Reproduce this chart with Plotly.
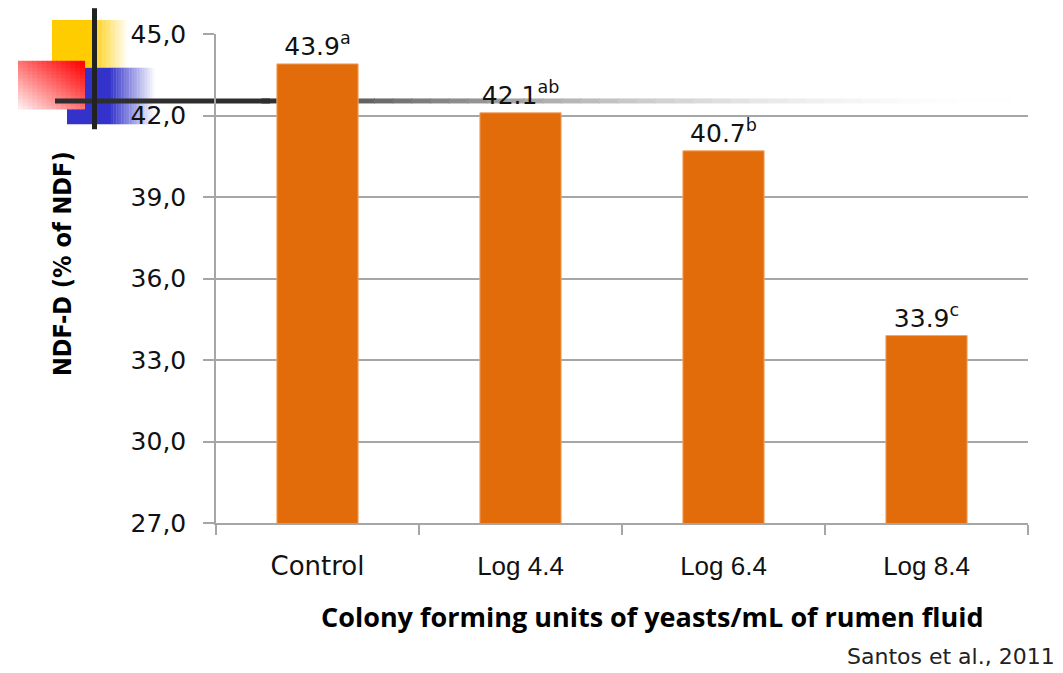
import plotly.graph_objects as go

# ---- data ----
categories = ["Control", "Log 4.4", "Log 6.4", "Log 8.4"]
ndf_d = [43.9, 42.1, 40.7, 33.9]
letters = ["a", "ab", "b", "c"]
y_ticks = [27, 30, 33, 36, 39, 42, 45]

# the page body adds an 8px offset; lay out in page pixels and compensate
OFF = 8
W, H = 1063 - OFF, 673 - OFF
PL, PR, PT, PB = 216, 1028, 30, 523          # plot area in page pixels
L, T = PL - OFF, PT - OFF
R = W - (PR - OFF)
B = H - (PB - OFF)
PW, PH = PR - PL, PB - PT


def px(x):
    return (x - PL) / PW


def py(y):
    return (PB - y) / PH


bar_text = [f"{v:.1f}<sup>{s}</sup>" for v, s in zip(ndf_d, letters)]
tick_text = [c if c == "Control" else
             f"<span style='font-family:Liberation Sans, Arial'>{c}</span>"
             for c in categories]

fig = go.Figure()
fig.add_trace(go.Bar(
    x=categories, y=ndf_d, text=bar_text, textposition="outside",
    textfont=dict(family="DejaVu Sans", size=25, color="#111111"),
    marker=dict(color="#E36C0A", line=dict(color="#F2A56B", width=1)),
    cliponaxis=False, hoverinfo="skip",
))

shapes = []


def rect(x0, x1, y0, y1, color, opacity=1.0):
    shapes.append(dict(type="rect", xref="paper", yref="paper",
                       x0=px(x0), x1=px(x1), y0=py(y1), y1=py(y0),
                       fillcolor=color, opacity=opacity, line=dict(width=0),
                       layer="below"))


def hex_mix(c, t):
    # mix colour c (r,g,b) with white by fraction t of white
    r, g, b = c
    return "rgb({},{},{})".format(int(r + (255 - r) * t),
                                  int(g + (255 - g) * t),
                                  int(b + (255 - b) * t))


# yellow square, fading to the right
rect(52, 92, 16, 64, "#FFCC00")
n = 28
for i in range(n):
    a = 92 + (128 - 92) * i / n
    b = 92 + (128 - 92) * (i + 1) / n
    rect(a, b + 0.3, 16, 64, hex_mix((255, 204, 0), (i + 0.5) / n))
# blue rect, fading to the right
rect(67, 110, 64, 121, "#3333CC")
for i in range(n):
    a = 110 + (155 - 110) * i / n
    b = 110 + (155 - 110) * (i + 1) / n
    rect(a, b + 0.3, 64, 121, hex_mix((51, 51, 204), (i + 0.5) / n))
# red square with diagonal gradient (strong top-right, pale bottom-left)
m = 14
for i in range(m):
    for j in range(m):
        x0 = 18 + (85 - 18) * i / m
        x1 = 18 + (85 - 18) * (i + 1) / m + 0.8
        y0 = 57 + (106 - 57) * j / m
        y1 = 57 + (106 - 57) * (j + 1) / m + 0.8
        fx = (i + 0.5) / m
        fy = 1 - (j + 0.5) / m
        t = (fx + fy) / 2
        g_ = int(245 * (1 - t) ** 1.1)
        shapes.append(dict(type="rect", xref="paper", yref="paper",
                           x0=px(x0), x1=px(min(x1, 85)), y0=py(min(y1, 106)),
                           y1=py(y0), fillcolor=f"rgb(255,{g_},{g_})",
                           line=dict(width=0), layer="below"))

# horizontal template line, dark then fading to white
k = 40
for i in range(k):
    a = 262 + (1012 - 262) * i / k
    b = 262 + (1012 - 262) * (i + 1) / k
    f = (i + 0.5) / k
    v = int(46 + 209 * (1 - (1 - f) ** 2))
    shapes.append(dict(type="line", xref="paper", yref="paper",
                       x0=px(a - 0.5), x1=px(b + 0.5), y0=py(97.5),
                       y1=py(97.5),
                       line=dict(color=f"rgb({v},{v},{v})", width=5),
                       layer="below"))
shapes.append(dict(type="line", xref="paper", yref="paper",
                   x0=px(55), x1=px(270), y0=py(97.5), y1=py(97.5),
                   line=dict(color="#2e2e2e", width=5), layer="below"))
# vertical template line
shapes.append(dict(type="line", xref="paper", yref="paper",
                   x0=px(94.5), x1=px(94.5), y0=py(4), y1=py(126),
                   line=dict(color="#222222", width=5), layer="below"))

annotations = [
    dict(text="<b>Colony forming units of yeasts/mL of rumen fluid</b>",
         xref="paper", yref="paper", x=px(652), y=py(617),
         xanchor="center", yanchor="middle", showarrow=False,
         font=dict(family="Open Sans", size=27, color="#000000")),
    dict(text="<b>NDF-D (% of NDF)</b>", textangle=-90,
         xref="paper", yref="paper", x=px(62), y=py(262),
         xanchor="center", yanchor="middle", showarrow=False,
         font=dict(family="DejaVu Sans Condensed, DejaVu Sans", size=25,
                   color="#000000")),
    dict(text="Santos et al., 2011",
         xref="paper", yref="paper", x=px(845), y=py(658),
         xanchor="left", yanchor="middle", showarrow=False,
         font=dict(family="DejaVu Sans", size=22, color="#222222")),
]

fig.update_layout(
    width=W, height=H, autosize=False,
    margin=dict(l=L, r=R, t=T, b=B, pad=0),
    paper_bgcolor="white", plot_bgcolor="rgba(0,0,0,0)",
    separators=",.",
    showlegend=False, bargap=0.6,
    shapes=shapes, annotations=annotations,
    xaxis=dict(type="category", tickvals=categories, ticktext=tick_text,
               showline=True, linecolor="#a6a6a6", linewidth=1.5,
               ticks="outside", tickson="boundaries", ticklen=10,
               tickcolor="#a6a6a6", tickwidth=1.5, showgrid=False,
               tickfont=dict(family="DejaVu Sans", size=26, color="#111111"),
               ticklabelstandoff=19),
    yaxis=dict(range=[27, 45], tickvals=y_ticks, tickformat=".1f",
               showgrid=True, gridcolor="#a6a6a6", gridwidth=1.5,
               showline=True, linecolor="#a6a6a6", linewidth=1.5,
               ticks="outside", ticklen=11, tickcolor="#a6a6a6",
               tickwidth=1.5, zeroline=False,
               tickfont=dict(family="DejaVu Sans", size=25, color="#111111"),
               ticklabelstandoff=12),
)

fig.write_html("out.html")
